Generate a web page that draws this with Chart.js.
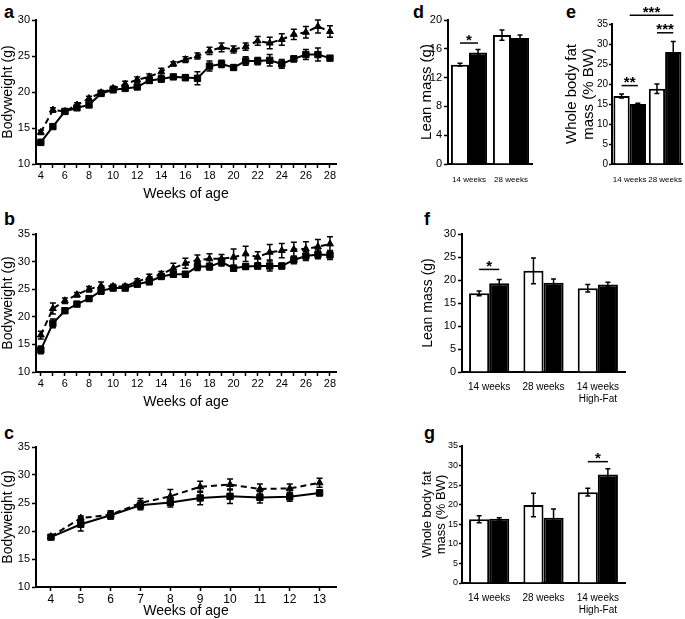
<!DOCTYPE html>
<html>
<head>
<meta charset="utf-8">
<script src="https://cdn.jsdelivr.net/npm/chart.js@4.4.0/dist/chart.umd.min.js"></script>
<style>
    body { margin: 0; background: #fff; width: 685px; height: 619px; position: relative; overflow: hidden; font-family: "Liberation Sans", Arial, sans-serif; }
    canvas { position: absolute; }
    .letra { position: absolute; font-weight: bold; font-size: 18px; line-height: 18px; color: #000; }
</style>
</head>
<body>
<div class="letra" style="left:4px;top:3px">a</div>
<div class="letra" style="left:4px;top:210px">b</div>
<div class="letra" style="left:4px;top:424px">c</div>
<div class="letra" style="left:413px;top:3px">d</div>
<div class="letra" style="left:566px;top:3px">e</div>
<div class="letra" style="left:424px;top:210px">f</div>
<div class="letra" style="left:424px;top:424px">g</div>

<canvas id="grafA" width="345" height="202" style="left:0;top:0"></canvas>
<canvas id="grafB" width="345" height="196" style="left:0;top:214px"></canvas>
<canvas id="grafC" width="345" height="192" style="left:0;top:427px"></canvas>
<canvas id="grafD" width="122" height="182" style="left:418px;top:0"></canvas>
<canvas id="grafE" width="121" height="182" style="left:564px;top:0"></canvas>
<canvas id="grafF" width="220" height="190" style="left:420px;top:214px"></canvas>
<canvas id="grafG" width="220" height="193" style="left:420px;top:426px"></canvas>

<script>
// ==================== DADOS ====================
// Semanas de idade (painéis a e b)
const semanasLongas = [4, 5, 6, 7, 8, 9, 10, 11, 12, 13, 14, 15, 16, 17, 18, 19, 20, 21, 22, 23, 24, 25, 26, 27, 28];
// Semanas de idade (painel c)
const semanasCurtas = [4, 5, 6, 7, 8, 9, 10, 11, 12, 13];

// Painel a - peso corporal (g)
const pesoA_tracejada = [14.4, 17.5, 17.3, 18.2, 19.1, 19.9, 20.5, 21.1, 21.7, 22.1, 22.8, 23.9, 24.5, 25.0, 25.7, 26.2, 25.9, 26.3, 27.1, 26.8, 27.3, 28.0, 28.3, 29.1, 28.4];
const erroA_tracejada = [0.3, 0.3, 0.3, 0.3, 0.3, 0.3, 0.3, 0.4, 0.4, 0.4, 0.5, 0.3, 0.4, 0.4, 0.5, 0.6, 0.5, 0.5, 0.6, 0.8, 0.8, 0.7, 0.8, 0.9, 0.8];
const pesoA_continua = [13.0, 15.2, 17.3, 17.8, 18.2, 19.8, 20.3, 20.5, 20.7, 21.6, 21.8, 22.1, 22.0, 21.9, 23.6, 23.9, 23.4, 24.3, 24.3, 24.4, 23.9, 24.6, 25.2, 25.2, 24.7];
const erroA_continua = [0.4, 0.3, 0.3, 0.3, 0.3, 0.3, 0.3, 0.3, 0.3, 0.4, 0.4, 0.3, 0.4, 0.9, 0.7, 0.5, 0.3, 0.6, 0.5, 0.8, 0.6, 0.4, 0.7, 0.9, 0.3];

// Painel b - peso corporal (g)
const pesoB_tracejada = [16.7, 21.5, 22.9, 24.0, 25.0, 25.6, 25.5, 25.5, 26.4, 27.1, 27.7, 28.8, 29.7, 30.3, 30.5, 30.5, 30.8, 31.4, 30.8, 31.7, 32.0, 32.2, 32.3, 32.7, 33.2];
const erroB_tracejada = [0.7, 1.0, 0.5, 0.4, 0.5, 0.7, 0.4, 0.4, 0.5, 0.6, 0.5, 0.9, 0.9, 0.9, 0.9, 0.8, 1.5, 1.4, 1.0, 1.4, 1.3, 1.3, 1.3, 1.3, 1.3];
const pesoB_continua = [14.0, 18.8, 21.1, 22.3, 23.3, 24.7, 25.2, 25.2, 25.9, 26.4, 27.3, 27.7, 27.7, 29.1, 29.1, 29.9, 28.8, 29.1, 29.2, 29.2, 29.2, 30.3, 31.0, 31.3, 31.2];
const erroB_continua = [0.7, 0.8, 0.4, 0.4, 0.5, 0.6, 0.4, 0.4, 0.4, 0.6, 0.4, 0.4, 0.5, 0.7, 0.6, 0.7, 0.5, 0.5, 0.5, 0.9, 0.5, 0.7, 0.8, 0.8, 0.8];

// Painel c - peso corporal (g)
const pesoC_tracejada = [19.0, 22.3, 22.9, 25.0, 26.2, 27.9, 28.3, 27.5, 27.6, 28.6];
const erroC_tracejada = [0.3, 0.4, 0.7, 0.8, 1.2, 1.0, 1.0, 0.9, 0.8, 0.8];
const pesoC_continua = [18.9, 21.2, 22.8, 24.6, 25.1, 25.9, 26.2, 26.0, 26.1, 26.8];
const erroC_continua = [0.3, 1.2, 0.7, 0.8, 0.8, 1.2, 1.3, 1.0, 0.8, 0.5];

// Painéis d e e
const gruposDE = ['14 weeks', '28 weeks'];
const magraD_branco = [13.8, 17.9];
const erroD_branco = [0.2, 0.7];
const magraD_preto = [15.5, 17.5];
const erroD_preto = [0.4, 0.4];
const gorduraE_branco = [17.0, 18.8];
const erroE_branco = [0.5, 1.2];
const gorduraE_preto = [15.0, 28.0];
const erroE_preto = [0.2, 2.6];

// Painéis f e g
const gruposFG = ['14 weeks', '28 weeks', ['14 weeks', 'High-Fat']];
const magraF_branco = [17.1, 22.0, 18.2];
const erroF_branco = [0.5, 2.8, 0.8];
const magraF_preto = [19.3, 19.4, 19.0];
const erroF_preto = [0.8, 0.8, 0.5];
const gorduraG_branco = [16.3, 19.9, 23.2];
const erroG_branco = [0.9, 3.0, 1.0];
const gorduraG_preto = [16.4, 16.7, 27.7];
const erroG_preto = [0.3, 2.2, 1.5];

// Significância: [grupo, série] inicial e final ([grupo] = centro do grupo), nível no eixo y, texto
const signifD = [{ de: [0, 0], ate: [0, 1], nivel: 16.8, texto: '*' }];
const signifE = [
    { de: [0, 0], ate: [0, 1], nivel: 19.6, texto: '**' },
    { de: [1, 0], ate: [1, 1], nivel: 32.8, texto: '***' },
    { de: [0], ate: [1, 1], nivel: 37.2, texto: '***' }
];
const signifF = [{ de: [0, 0], ate: [0, 1], nivel: 22.3, texto: '*' }];
const signifG = [{ de: [2, 0], ate: [2, 1], nivel: 31.0, texto: '*' }];

// ==================== CONFIGURAÇÃO GERAL ====================
Chart.defaults.font.family = '"Liberation Sans", Arial, sans-serif';
Chart.defaults.color = '#000';
Chart.defaults.animation = false;

// Barras de erro (desenhadas a partir das escalas)
const pluginBarrasErro = {
    id: 'barrasErro',
    afterDatasetsDraw(chart) {
        const ctx = chart.ctx;
        const escalaY = chart.scales.y;
        chart.data.datasets.forEach((ds, i) => {
            if (!ds.erros) return;
            const meta = chart.getDatasetMeta(i);
            ctx.save();
            ctx.strokeStyle = '#000';
            ctx.lineWidth = 1.5;
            meta.data.forEach((el, j) => {
                const d = ds.data[j];
                const v = typeof d === 'object' ? d.y : d;
                const e = ds.erros[j];
                const yTopo = escalaY.getPixelForValue(v + e);
                const yBase = escalaY.getPixelForValue(v - e);
                const meia = ds.meiaHaste || 3;
                ctx.beginPath();
                ctx.moveTo(el.x, yTopo); ctx.lineTo(el.x, yBase);
                ctx.moveTo(el.x - meia, yTopo); ctx.lineTo(el.x + meia, yTopo);
                ctx.moveTo(el.x - meia, yBase); ctx.lineTo(el.x + meia, yBase);
                ctx.stroke();
            });
            ctx.restore();
        });
    }
};

// posição x de uma barra, ou do centro do grupo
function posicaoX(chart, ref) {
    if (ref.length === 1) {
        const a = chart.getDatasetMeta(0).data[ref[0]].x;
        const b = chart.getDatasetMeta(1).data[ref[0]].x;
        return (a + b) / 2;
    }
    return chart.getDatasetMeta(ref[1]).data[ref[0]].x;
}

// Linhas e asteriscos de significância
const pluginSignificancia = {
    id: 'significancia',
    afterDraw(chart, args, opts) {
        const marcas = opts.marcas || [];
        const ctx = chart.ctx;
        ctx.save();
        ctx.strokeStyle = '#000';
        ctx.fillStyle = '#000';
        ctx.lineWidth = 1.5;
        ctx.font = 'bold 15px "Liberation Sans", Arial, sans-serif';
        ctx.textAlign = 'center';
        ctx.textBaseline = 'bottom';
        marcas.forEach(m => {
            const x1 = posicaoX(chart, m.de);
            const x2 = posicaoX(chart, m.ate);
            const y = chart.scales.y.getPixelForValue(m.nivel);
            ctx.beginPath();
            ctx.moveTo(x1, y); ctx.lineTo(x2, y);
            ctx.stroke();
            ctx.fillText(m.texto, (x1 + x2) / 2, y + 5);
        });
        ctx.restore();
    }
};

function bordaPreta() {
    return { display: true, color: '#000', width: 2 };
}

function gradeTicks(comprimento) {
    return { drawOnChartArea: false, drawTicks: true, tickLength: comprimento || 4, tickWidth: 1.5, color: '#000' };
}

// Eixo x das semanas
function escalaSemanas(min, max, soPares, fonte, altura) {
    return {
        type: 'linear', min: min, max: max,
        border: bordaPreta(),
        grid: gradeTicks(),
        ticks: {
            stepSize: 1, includeBounds: false, autoSkip: false, maxRotation: 0,
            font: { size: fonte, lineHeight: 1.1 }, padding: 2,
            callback: v => (soPares && v % 2 !== 0) ? '' : v
        },
        title: { display: true, text: 'Weeks of age', font: { size: 14, lineHeight: 1.1 }, padding: { top: 1, bottom: 0 } },
        afterFit: s => { s.height = altura; }
    };
}

// Eixo y de valores
function escalaValor(min, max, passo, titulo, largura, fonte, fonteTitulo, alturaLinha, compTick) {
    return {
        min: min, max: max,
        border: bordaPreta(),
        grid: gradeTicks(compTick),
        ticks: { stepSize: passo, font: { size: fonte }, padding: compTick ? 1 : 2 },
        title: { display: true, text: titulo, font: { size: fonteTitulo, lineHeight: alturaLinha || 1.2 }, padding: 0 },
        afterFit: s => { s.width = largura; }
    };
}

// Eixo x das categorias (barras)
function escalaGrupos(fonte, altura, distancia) {
    return {
        type: 'category',
        border: bordaPreta(),
        grid: { display: false },
        ticks: { font: { size: fonte, lineHeight: 1.2 }, padding: distancia, maxRotation: 0, autoSkip: false },
        afterFit: s => { s.height = altura; }
    };
}

function serieLinha(semanas, valores, erros, tracejada) {
    return {
        data: semanas.map((s, i) => ({ x: s, y: valores[i] })),
        erros: erros,
        borderColor: '#000',
        backgroundColor: '#000',
        borderWidth: 2,
        borderDash: tracejada ? [6, 4] : [],
        pointStyle: tracejada ? 'triangle' : 'rect',
        pointRadius: tracejada ? 4 : 4.5,
        pointBorderWidth: 1,
        pointBorderColor: '#000',
        pointBackgroundColor: '#000'
    };
}

function serieBarra(valores, erros, preto, percCategoria) {
    return {
        data: valores,
        erros: erros,
        meiaHaste: 2.5,
        backgroundColor: preto ? '#000' : '#fff',
        borderColor: '#000',
        borderWidth: 2,
        barPercentage: 1,
        categoryPercentage: percCategoria
    };
}

// ==================== GRÁFICOS DE LINHA ====================
function criarGraficoLinha(id, series, escalaX, escalaY, padding) {
    return new Chart(document.getElementById(id), {
        type: 'line',
        data: { datasets: series },
        options: {
            responsive: false,
            layout: { padding: padding },
            plugins: { legend: { display: false }, tooltip: { enabled: false } },
            scales: { x: escalaX, y: escalaY }
        },
        plugins: [pluginBarrasErro]
    });
}

criarGraficoLinha('grafA', [
    serieLinha(semanasLongas, pesoA_continua, erroA_continua, false),
    serieLinha(semanasLongas, pesoA_tracejada, erroA_tracejada, true)
], escalaSemanas(3.6, 28.5, true, 11, 38), escalaValor(10, 30, 5, 'Bodyweight (g)', 36, 11, 14),
   { top: 20, right: 9, left: 0, bottom: 0 });

criarGraficoLinha('grafB', [
    serieLinha(semanasLongas, pesoB_continua, erroB_continua, false),
    serieLinha(semanasLongas, pesoB_tracejada, erroB_tracejada, true)
], escalaSemanas(3.6, 28.5, true, 11, 38), escalaValor(10, 35, 5, 'Bodyweight (g)', 36, 11, 14),
   { top: 20, right: 9, left: 0, bottom: 0 });

criarGraficoLinha('grafC', [
    serieLinha(semanasCurtas, pesoC_continua, erroC_continua, false),
    serieLinha(semanasCurtas, pesoC_tracejada, erroC_tracejada, true)
], escalaSemanas(3.5, 13.55, false, 12, 32), escalaValor(10, 35, 5, 'Bodyweight (g)', 36, 11, 14),
   { top: 20, right: 9, left: 0, bottom: 0 });

// ==================== GRÁFICOS DE BARRAS ====================
function criarGraficoBarras(id, grupos, series, escalaX, escalaY, marcas, padding) {
    return new Chart(document.getElementById(id), {
        type: 'bar',
        data: { labels: grupos, datasets: series },
        options: {
            responsive: false,
            layout: { padding: padding },
            plugins: {
                legend: { display: false },
                tooltip: { enabled: false },
                significancia: { marcas: marcas }
            },
            scales: { x: escalaX, y: escalaY }
        },
        plugins: [pluginBarrasErro, pluginSignificancia]
    });
}

criarGraficoBarras('grafD', gruposDE, [
    serieBarra(magraD_branco, erroD_branco, false, 0.86),
    serieBarra(magraD_preto, erroD_preto, true, 0.86)
], escalaGrupos(8, 18, 3), escalaValor(0, 20, 4, 'Lean mass (g)', 30, 11, 15), signifD,
   { top: 20, right: 8, left: 0, bottom: 0 });

criarGraficoBarras('grafE', gruposDE, [
    serieBarra(gorduraE_branco, erroE_branco, false, 0.92),
    serieBarra(gorduraE_preto, erroE_preto, true, 0.92)
], escalaGrupos(8, 18, 3), escalaValor(0, 35, 5, ['Whole body fat', 'mass (% BW)'], 48, 10, 15, 1.1, 3), signifE,
   { top: 24, right: 0, left: 0, bottom: 0 });

criarGraficoBarras('grafF', gruposFG, [
    serieBarra(magraF_branco, erroF_branco, false, 0.74),
    serieBarra(magraF_preto, erroF_preto, true, 0.74)
], escalaGrupos(10, 32, 1), escalaValor(0, 30, 5, 'Lean mass (g)', 42, 11, 14), signifF,
   { top: 20, right: 15, left: 0, bottom: 0 });

criarGraficoBarras('grafG', gruposFG, [
    serieBarra(gorduraG_branco, erroG_branco, false, 0.74),
    serieBarra(gorduraG_preto, erroG_preto, true, 0.74)
], escalaGrupos(10, 36, 1), escalaValor(0, 35, 5, ['Whole body fat', 'mass (% BW)'], 42, 9, 13, 1.1, 3), signifG,
   { top: 20, right: 15, left: 0, bottom: 0 });
</script>
</body>
</html>
